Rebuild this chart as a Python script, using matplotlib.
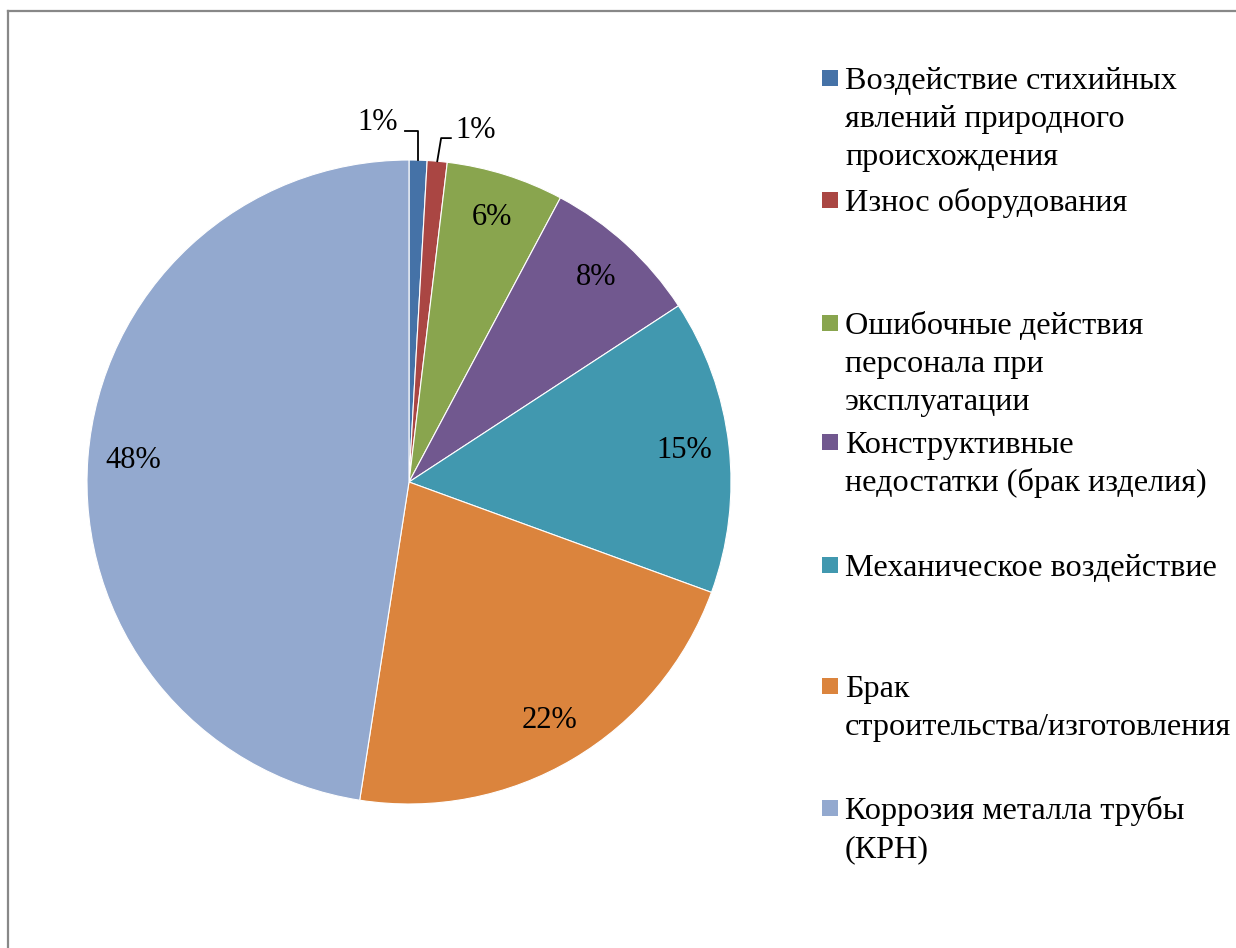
"""
Pie chart: causes of pipeline failures (share, %).
"""

import numpy as np
import matplotlib
matplotlib.use("Agg")
import matplotlib.pyplot as plt
from matplotlib.lines import Line2D
from matplotlib.patches import Rectangle

plt.rcParams['font.family'] = ['Liberation Serif', 'DejaVu Serif']

# Data
categories = [
    "Воздействие стихийных\nявлений природного\nпроисхождения",
    "Износ оборудования",
    "Ошибочные действия\nперсонала при\nэксплуатации",
    "Конструктивные\nнедостатки (брак изделия)",
    "Механическое воздействие",
    "Брак\nстроительства/изготовления",
    "Коррозия металла трубы\n(КРН)",
]
shares = [0.9, 1.0, 5.9, 8.0, 14.8, 21.9, 47.6]
colors = ['#4572A7', '#AA4643', '#89A54E', '#71588F', '#4198AF', '#DB843D', '#93A9CF']

W, H = 1236, 948
DPI = 100
FS_PCT = 22
FS_LEG = 23.2

fig = plt.figure(figsize=(W / DPI, H / DPI), dpi=DPI)

# pie area: centre (409, 482) px, radius 322 px
cx, cy, r = 409, 482, 322
ax = fig.add_axes([(cx - r) / W, (H - cy - r) / H, 2 * r / W, 2 * r / H])

wedges, texts, autotexts = ax.pie(
    shares, colors=colors, startangle=90, counterclock=False,
    autopct='%.0f%%', pctdistance=0.86,
    wedgeprops=dict(edgecolor='white', linewidth=0.8),
    textprops=dict(fontsize=FS_PCT, color='black'),
)
ax.set_xlim(-1, 1)
ax.set_ylim(-1, 1)
ax.set_aspect('equal')
ax.axis('off')

# the two small slices get outside labels with leader lines
outside = {0: (-0.096, 1.118), 1: (0.208, 1.093)}
for i, (lx, ly) in outside.items():
    w = wedges[i]
    mid = np.deg2rad((w.theta1 + w.theta2) / 2)
    ex, ey = np.cos(mid), np.sin(mid)
    t = autotexts[i]
    t.set_position((lx, ly))
    t.set_clip_on(False)
    if i == 0:
        elbow_y = ly - 0.028
        xs = [lx + 0.085, ex, ex]
    else:
        elbow_y = ly - 0.025
        xs = [lx - 0.078, ex + 0.012, ex]
    ax.plot(xs, [elbow_y, elbow_y, ey], color='black', lw=1.3, clip_on=False)

# legend drawn by hand so entries keep the reference spacing
sq_x = 822
sq = 16
txt_x = 845
entry_y = [78, 200, 323, 442, 565, 686, 808]
line_step = 38
for lab, col, y0 in zip(categories, colors, entry_y):
    fig.patches.append(Rectangle((sq_x / W, (H - y0 - sq / 2) / H), sq / W, sq / H,
                                 transform=fig.transFigure, facecolor=col,
                                 edgecolor='none'))
    for k, line in enumerate(lab.split('\n')):
        base = y0 + 11 + k * line_step
        fig.text(txt_x / W, (H - base) / H, line, fontsize=FS_LEG,
                 ha='left', va='baseline', color='black')

# chart-area frame (only left and top edges visible)
frame = '#888888'
fig.add_artist(Line2D([7.5 / W, 7.5 / W], [0, (H - 10.5) / H], color=frame, lw=1.6,
                      transform=fig.transFigure))
fig.add_artist(Line2D([7.5 / W, 1], [(H - 10.5) / H, (H - 10.5) / H], color=frame, lw=1.6,
                      transform=fig.transFigure))

fig.savefig('out.png', dpi=DPI, facecolor='white')
